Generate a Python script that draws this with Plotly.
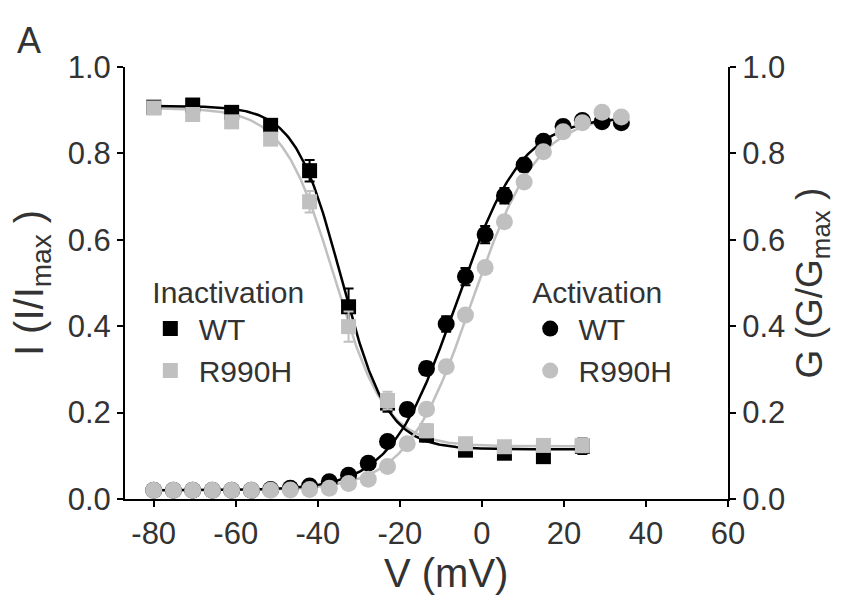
import numpy as np
import plotly.graph_objects as go

# ---------------- data ----------------
# Inactivation (steady-state), left axis I/Imax
inact_v = [-80, -70.5, -61, -51.5, -42, -32.5, -23, -13.5, -4, 5.5, 15, 24.5]
inact_wt = [0.907, 0.912, 0.895, 0.865, 0.760, 0.445, 0.222, 0.148, 0.113, 0.106, 0.098, 0.122]
inact_wt_err = [0.004, 0.006, 0.006, 0.008, 0.025, 0.042, 0.020, 0.015, 0.010, 0.010, 0.012, 0.018]
inact_mut = [0.905, 0.890, 0.873, 0.833, 0.688, 0.399, 0.228, 0.158, 0.128, 0.121, 0.124, 0.124]
inact_mut_err = [0.004, 0.006, 0.008, 0.010, 0.025, 0.035, 0.020, 0.015, 0.010, 0.010, 0.012, 0.016]

# Activation, right axis G/Gmax
act_v = [-80, -75.2, -70.5, -65.7, -61, -56.2, -51.5, -46.7, -42, -37.2, -32.5, -27.7, -23,
         -18.2, -13.5, -8.7, -4, 0.8, 5.5, 10.3, 15, 19.8, 24.5, 29.3, 34]
act_wt = [0.020, 0.020, 0.020, 0.020, 0.020, 0.020, 0.022, 0.025, 0.030, 0.040, 0.055, 0.083, 0.133,
          0.207, 0.302, 0.405, 0.515, 0.612, 0.702, 0.773, 0.828, 0.862, 0.876, 0.873, 0.871]
act_wt_err = [0.003, 0.003, 0.003, 0.003, 0.003, 0.003, 0.003, 0.003, 0.004, 0.005, 0.006, 0.008, 0.010,
              0.014, 0.015, 0.018, 0.020, 0.020, 0.018, 0.015, 0.012, 0.010, 0.010, 0.010, 0.010]
act_mut = [0.020, 0.020, 0.020, 0.020, 0.020, 0.020, 0.020, 0.021, 0.022, 0.025, 0.036, 0.046, 0.075,
           0.128, 0.208, 0.306, 0.426, 0.536, 0.642, 0.734, 0.804, 0.850, 0.871, 0.895, 0.884]
act_mut_err = [0.003] * 25

# Boltzmann fit parameters
fit_inact_wt = dict(top=0.91, bottom=0.115, vh=-34.3, k=5.6)
fit_inact_mut = dict(top=0.905, bottom=0.122, vh=-36.0, k=6.2)
fit_act_wt = dict(base=0.02, top=0.885, vh=-6.3, k=8.0)
fit_act_mut = dict(base=0.02, top=0.89, vh=-2.5, k=8.0)

x_ticks = [-80, -60, -40, -20, 0, 20, 40, 60]
y_ticks = [0.0, 0.2, 0.4, 0.6, 0.8, 1.0]

BLACK = "#000000"
GRAY = "#c0c0c0"
TXT = "#333333"
FONT = "Liberation Sans, Arial, sans-serif"
NB = "\u00a0"


def inact_curve(v, p):
    return p["bottom"] + (p["top"] - p["bottom"]) / (1 + np.exp((v - p["vh"]) / p["k"]))


def act_curve(v, p):
    return p["base"] + (p["top"] - p["base"]) / (1 + np.exp((p["vh"] - v) / p["k"]))


vi = np.linspace(inact_v[0], inact_v[-1], 300)
va = np.linspace(act_v[0], act_v[-1], 300)

fig = go.Figure()

# fit lines
fig.add_trace(go.Scatter(x=vi, y=inact_curve(vi, fit_inact_mut), mode="lines",
                         line=dict(color=GRAY, width=2.5), showlegend=False, hoverinfo="skip"))
fig.add_trace(go.Scatter(x=va, y=act_curve(va, fit_act_mut), mode="lines", yaxis="y2",
                         line=dict(color=GRAY, width=2.5), showlegend=False, hoverinfo="skip"))
fig.add_trace(go.Scatter(x=vi, y=inact_curve(vi, fit_inact_wt), mode="lines",
                         line=dict(color=BLACK, width=2.5), showlegend=False, hoverinfo="skip"))
fig.add_trace(go.Scatter(x=va, y=act_curve(va, fit_act_wt), mode="lines", yaxis="y2",
                         line=dict(color=BLACK, width=2.5), showlegend=False, hoverinfo="skip"))

# data markers
fig.add_trace(go.Scatter(x=inact_v, y=inact_wt, mode="markers", name=NB + "WT", legend="legend",
                         marker=dict(symbol="square", size=15, color=BLACK),
                         error_y=dict(type="data", array=inact_wt_err, color=BLACK, thickness=2, width=5)))
fig.add_trace(go.Scatter(x=act_v, y=act_wt, mode="markers", name=NB + "WT", yaxis="y2", legend="legend2",
                         marker=dict(symbol="circle", size=17, color=BLACK),
                         error_y=dict(type="data", array=act_wt_err, color=BLACK, thickness=2, width=5)))
fig.add_trace(go.Scatter(x=inact_v, y=inact_mut, mode="markers", name=NB + "R990H", legend="legend",
                         marker=dict(symbol="square", size=15, color=GRAY),
                         error_y=dict(type="data", array=inact_mut_err, color=GRAY, thickness=2, width=5)))
fig.add_trace(go.Scatter(x=act_v, y=act_mut, mode="markers", name=NB + "R990H", yaxis="y2", legend="legend2",
                         marker=dict(symbol="circle", size=17, color=GRAY),
                         error_y=dict(type="data", array=act_mut_err, color=GRAY, thickness=2, width=5)))

axis_common = dict(showgrid=False, zeroline=False, showline=True, linecolor=BLACK, linewidth=2,
                   ticks="outside", ticklen=6, tickwidth=2, tickcolor=BLACK,
                   tickfont=dict(size=31, color=TXT, family=FONT))

legend_common = dict(font=dict(size=30, color=TXT, family=FONT), bgcolor="rgba(0,0,0,0)",
                     itemsizing="trace", tracegroupgap=0, xanchor="left", yanchor="top")

fig.update_layout(
    width=852, height=597,
    margin=dict(l=125, r=124, t=67, b=98),
    paper_bgcolor="white", plot_bgcolor="white",
    font=dict(family=FONT, color=TXT),
    xaxis=dict(range=[-87, 60], tickvals=x_ticks, ticktext=[str(t) for t in x_ticks], **axis_common),
    yaxis=dict(range=[0, 1], tickvals=y_ticks, tickformat=".1f",
               title=dict(text="I (I/I<sub>max</sub> )", font=dict(size=40, color=TXT, family=FONT), standoff=12),
               **axis_common),
    yaxis2=dict(range=[0, 1], tickvals=y_ticks, tickformat=".1f", overlaying="y", side="right",
                title=dict(text="G (G/G<sub>max</sub> )", font=dict(size=37, color=TXT, family=FONT), standoff=12),
                **axis_common),
    legend=dict(x=0.042, y=0.545, title=dict(text="Inactivation", font=dict(size=30, color=TXT, family=FONT)),
                **legend_common),
    legend2=dict(x=0.672, y=0.545, title=dict(text="Activation", font=dict(size=30, color=TXT, family=FONT)),
                 **legend_common),
    annotations=[
        dict(text="A", xref="paper", yref="paper", x=-0.183, y=1.0625, xanchor="left",
             yanchor="middle", showarrow=False, font=dict(size=36, color=TXT, family=FONT)),
        dict(text="V (mV)", xref="paper", yref="paper", x=0.532, y=-0.172, xanchor="center",
             yanchor="middle", showarrow=False, font=dict(size=40, color=TXT, family=FONT)),
    ],
)

fig.write_html("out.html")
